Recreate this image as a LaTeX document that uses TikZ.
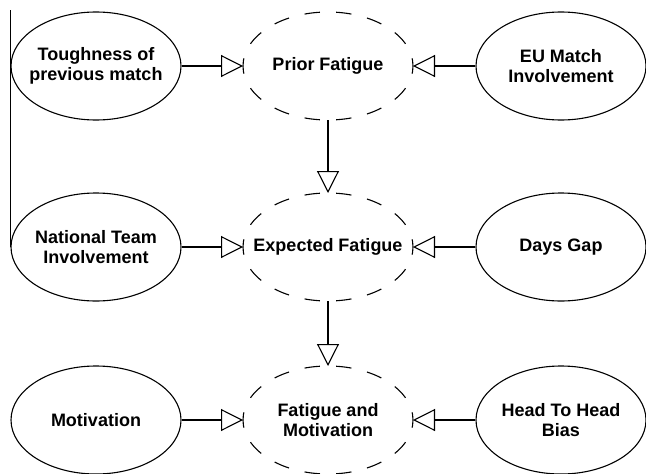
\documentclass[tikz,border=0pt]{standalone}
\usepackage{fontspec}
\setmainfont{Liberation Sans}
\usetikzlibrary{arrows.meta,shapes.geometric}
\begin{document}
\begin{tikzpicture}[x=1pt,y=-1pt,
  ell/.style={ellipse, draw, line width=1.1pt, minimum width=170pt, minimum height=108pt,
    inner sep=0pt},
  dell/.style={ell, draw=none, outer sep=0pt},
  txt/.style={inner sep=0pt, align=center, font=\fontsize{18}{19.5}\selectfont\bfseries},
  dsh/.style={line width=1.1pt, dash pattern=on 15.5pt off 16.08pt, dash phase=7.75pt},
  arr/.style={line width=1.1pt, -{Triangle[open, length=22pt, width=22pt]}}]
\useasboundingbox (0,0) rectangle (646,474);
% left column
\node[ell]  (tough) at (96,66)  {};
\node[ell]  (nat)   at (96,247) {};
\node[ell]  (motiv) at (96,420) {};
\node[txt]  (toughT) at (tough) {Toughness of\\previous match};
\node[txt]  (natT)   at (nat)   {National Team\\Involvement};
\node[txt]  (motivT) at (motiv) {Motivation};
% middle column (dashed ellipses)
\node[dell] (prior) at (328,66)  {};
\node[dell] (expf)  at (328,247) {};
\node[dell] (fatm)  at (328,420) {};
\foreach \n in {prior,expf,fatm}{
  \draw[dsh] (\n.center) ++(85,0) arc[start angle=0, end angle=90, x radius=85, y radius=54];
  \draw[dsh] (\n.center) ++(85,0) arc[start angle=0, end angle=-90, x radius=85, y radius=54];
  \draw[dsh] (\n.center) ++(-85,0) arc[start angle=180, end angle=90, x radius=85, y radius=54];
  \draw[dsh] (\n.center) ++(-85,0) arc[start angle=180, end angle=270, x radius=85, y radius=54];
}
\node[txt]  (priorT) at (prior) {Prior Fatigue};
\node[txt]  (expfT)  at (expf)  {Expected Fatigue};
\node[txt]  (fatmT)  at (fatm)  {Fatigue and\\Motivation};
% right column
\node[ell]  (eu)    at (561,66)  {};
\node[ell]  (days)  at (561,247) {};
\node[ell]  (h2h)   at (561,420) {};
\node[txt]  (euT)   at (eu)   {EU Match\\Involvement};
\node[txt]  (daysT) at (days) {Days Gap};
\node[txt]  (h2hT)  at (h2h)  {Head To Head\\Bias};
% left border line
\coordinate (ltop) at (nat.west |- 0,10);
\draw[line width=1.1pt] (ltop) -- (nat.west);
% connectors
\draw[arr] (tough.east) -- (prior.west);
\draw[arr] (eu.west) -- (prior.east);
\draw[arr] (nat.east) -- (expf.west);
\draw[arr] (days.west) -- (expf.east);
\draw[arr] (motiv.east) -- (fatm.west);
\draw[arr] (h2h.west) -- (fatm.east);
\draw[arr] (prior.south) -- (expf.north);
\draw[arr] (expf.south) -- (fatm.north);
\end{tikzpicture}
\end{document}
